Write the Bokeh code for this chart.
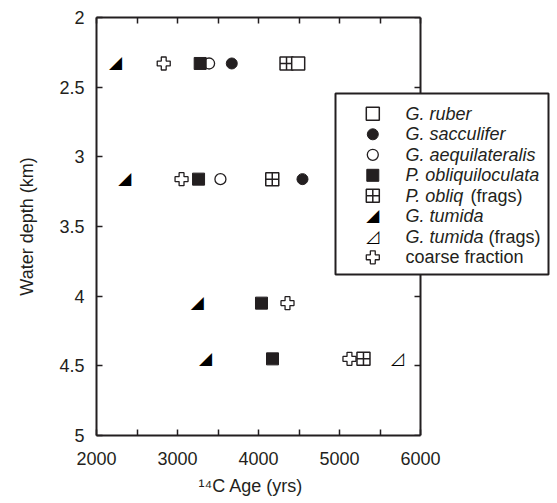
from bokeh.plotting import figure
from bokeh.models import (Range1d, LinearAxis, FixedTicker, BoxAnnotation, Label, Title)
from bokeh.core.properties import value
from bokeh.embed import file_html
from bokeh.resources import INLINE

# ---------------- data ----------------
ruber_age = [4490]
ruber_depth = [2.33]
sacc_age = [3670, 4543]
sacc_depth = [2.33, 3.16]
aequi_age = [3390, 3530]
aequi_depth = [2.33, 3.16]
pobl_age = [3280, 3260, 4037, 4173]
pobl_depth = [2.33, 3.16, 4.05, 4.45]
pobl_frag_age = [4346, 4170, 5296]
pobl_frag_depth = [2.33, 3.16, 4.45]
tumida_age = [2235, 2350, 3245, 3346]
tumida_depth = [2.33, 3.16, 4.05, 4.45]
tumida_frag_age = [5716]
tumida_frag_depth = [4.45]
coarse_age = [2830, 3050, 4358, 5123]
coarse_depth = [2.33, 3.16, 4.05, 4.45]

x_ticks = [2000, 3000, 4000, 5000, 6000]
x_minor = [2500, 3500, 4500, 5500]
y_ticks = [2, 2.5, 3, 3.5, 4, 4.5, 5]
x_lo, x_hi = 2000, 6000
y_lo, y_hi = 2, 5

legend_main = ["G. ruber", "G. sacculifer", "G. aequilateralis", "P. obliquiloculata",
               "P. obliq", "G. tumida", "G. tumida", ""]
legend_extra = ["", "", "", "", "(frags)", "", "(frags)", "coarse fraction"]

# ---------------- layout ----------------
FONT = "Liberation Sans"
INK = "#231f20"
W, H = 557, 503
LEFT, TOP, BOTTOM, RIGHT = 96, 17, 68, 5
FW = W - LEFT - RIGHT          # frame width (extends under the legend)
FH = H - TOP - BOTTOM
AXIS_PX = 324                  # pixels spanned by 2000..6000
x_end = x_lo + (x_hi - x_lo) * FW / AXIS_PX

p = figure(width=W, height=H, output_backend="svg", toolbar_location=None,
           x_range=Range1d(x_lo, x_end), y_range=Range1d(y_hi, y_lo),
           min_border_left=LEFT, min_border_right=RIGHT, min_border_top=TOP,
           min_border_bottom=BOTTOM, y_axis_label="Water depth (km)")
p.extra_x_ranges = {"px": Range1d(0, FW)}
p.extra_y_ranges = {"px": Range1d(0, FH)}
p.outline_line_color = None
p.grid.visible = False


def style_axis(ax, labels=True):
    ax.axis_line_width = 2
    ax.axis_line_color = INK
    ax.major_tick_line_color = INK
    ax.major_tick_line_width = 1.5
    ax.minor_tick_line_color = INK
    ax.minor_tick_line_width = 1.5
    ax.major_tick_in = 6
    ax.major_tick_out = 0
    ax.minor_tick_in = 6
    ax.minor_tick_out = 0
    if labels:
        ax.major_label_text_font = FONT
        ax.major_label_text_font_size = "18px"
        ax.major_label_text_color = INK
        ax.axis_label_text_font = FONT
        ax.axis_label_text_font_size = "18px"
        ax.axis_label_text_font_style = "normal"
        ax.axis_label_text_color = INK
    else:
        ax.major_label_text_font_size = "0px"
        ax.major_label_text_color = None
        ax.major_label_standoff = 0


xb = p.below[0]
yl = p.left[0]
xb.ticker = FixedTicker(ticks=x_ticks, minor_ticks=x_minor)
xb.bounds = (x_lo, x_hi)
yl.ticker = FixedTicker(ticks=y_ticks, minor_ticks=[])
style_axis(xb)
style_axis(yl)
xb.major_label_standoff = 16
yl.major_label_standoff = 12
yl.axis_label_standoff = 19

xt = LinearAxis(ticker=FixedTicker(ticks=x_ticks, minor_ticks=x_minor), bounds=(x_lo, x_hi))
yr = LinearAxis(ticker=FixedTicker(ticks=y_ticks, minor_ticks=[]), fixed_location=x_hi)
style_axis(xt, labels=False)
style_axis(yr, labels=False)
p.add_layout(xt, "above")
p.add_layout(yr, "right")

xtitle = Title(text="¹⁴C Age (yrs)", align="left", offset=102, standoff=13,
               text_font=FONT, text_font_size="18px", text_font_style="normal",
               text_color=INK)
p.add_layout(xtitle, "below")

# ---------------- data marks ----------------
TRI_SIZE = "17px"
TRI_DY = -1
styles = {
    "aequi": dict(marker="circle", size=11, fill_color="white", line_color=INK, line_width=1.3),
    "pobl": dict(marker="square", size=12, fill_color=INK, line_color=INK, line_width=1),
    "sacc": dict(marker="circle", size=11, fill_color=INK, line_color=INK, line_width=1),
    "frag": dict(marker="square_cross", size=13, fill_color="white", line_color=INK, line_width=1.5),
    "ruber": dict(marker="square", size=13, fill_color="white", line_color=INK, line_width=1.5),
    "coarse": dict(marker="plus", size=13, fill_color="white", line_color=INK, line_width=1.3),
}
p.scatter(aequi_age, aequi_depth, **styles["aequi"])
p.scatter(pobl_age, pobl_depth, **styles["pobl"])
p.scatter(sacc_age, sacc_depth, **styles["sacc"])
p.scatter(pobl_frag_age, pobl_frag_depth, **styles["frag"])
p.scatter(ruber_age, ruber_depth, **styles["ruber"])
p.scatter(coarse_age, coarse_depth, **styles["coarse"])
tri_kw = dict(text_font=value("DejaVu Sans"), text_font_size=value(TRI_SIZE),
              text_align="center", text_baseline="middle", text_color="black",
              y_offset=TRI_DY)
trif_kw = dict(tri_kw, text_font_style="bold")
p.text(tumida_age, tumida_depth, text=value("◢"), **tri_kw)
p.text(tumida_frag_age, tumida_frag_depth, text=value("◿"), **trif_kw)

# ---------------- legend (frame-relative pixels) ----------------
LEG_L, LEG_R, LEG_B, LEG_T = 239, 452, 161, 342
KEY_X, TEXT_X = 276.3, 309
ROW0, PITCH = 321.7, 20.5

box = BoxAnnotation(left=LEG_L, right=LEG_R, bottom=LEG_B, top=LEG_T,
                    left_units="screen", right_units="screen",
                    bottom_units="screen", top_units="screen",
                    fill_color="white", fill_alpha=1.0,
                    line_color=INK, line_width=2, line_alpha=1.0)
p.add_layout(box)

key_order = ["ruber", "sacc", "aequi", "pobl", "frag", None, None, "coarse"]
for i, k in enumerate(key_order):
    yy = ROW0 - i * PITCH
    if k is not None:
        p.scatter([KEY_X], [yy], x_range_name="px", y_range_name="px",
                  level="overlay", **styles[k])
p.text([KEY_X], [ROW0 - 5 * PITCH], text=value("◢"), x_range_name="px",
       y_range_name="px", level="overlay", **tri_kw)
p.text([KEY_X], [ROW0 - 6 * PITCH], text=value("◿"), x_range_name="px",
       y_range_name="px", level="overlay", **trif_kw)

for i, (a, b) in enumerate(zip(legend_main, legend_extra)):
    yy = ROW0 - i * PITCH
    if a:
        p.add_layout(Label(x=TEXT_X, y=yy, x_units="screen", y_units="screen", text=a,
                           text_font=FONT, text_font_size="18px",
                           text_font_style="italic", text_color=INK,
                           text_baseline="middle", text_align="left"))
    if b:
        off = {"P. obliq": 65, "G. tumida": 83, "": 0}[a]
        p.add_layout(Label(x=TEXT_X + off, y=yy, x_units="screen", y_units="screen",
                           text=b, text_font=FONT, text_font_size="18px",
                           text_font_style="normal", text_color=INK,
                           text_baseline="middle", text_align="left"))

open("out.html", "w").write(file_html(p, INLINE))
